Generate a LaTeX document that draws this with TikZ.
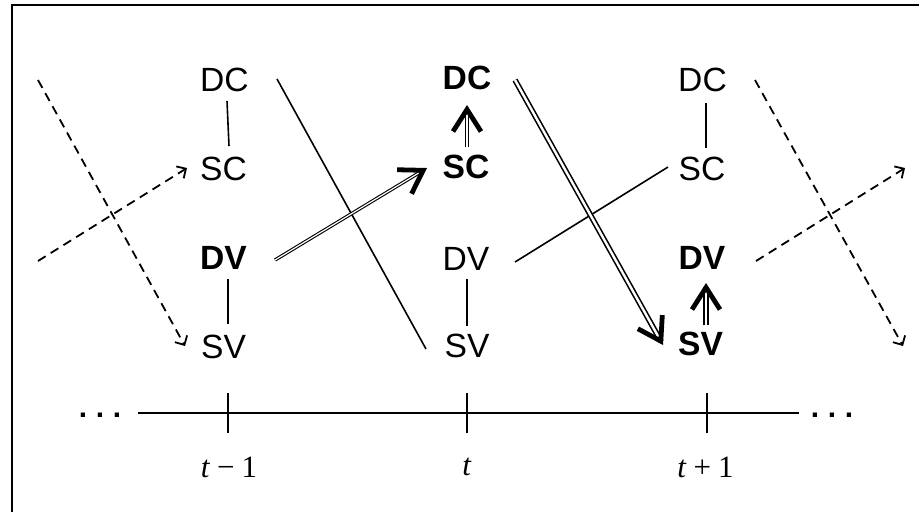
\documentclass[tikz,border=0pt]{standalone}
\usepackage{fontspec}
\setmainfont{Liberation Sans}
\newfontfamily\timesfont{Liberation Serif}
\usetikzlibrary{arrows.meta,calc}

\begin{document}
\begin{tikzpicture}[x=0.5pt,y=-0.5pt,
  lbl/.style={inner sep=0pt, font=\fontsize{16.8}{19}\selectfont},
  blbl/.style={inner sep=0pt, font=\fontsize{16.8}{19}\selectfont\bfseries},
  link/.style={line width=0.8pt},
  dlink/.style={line width=0.9pt, dash pattern=on 4.5pt off 3pt,
    -{Straight Barb[length=3.5pt,width=7pt]}},
  thinshaft/.style={double, line width=0.55pt, double distance=0.6pt, shorten >=2pt},
  wideshaft/.style={double, line width=0.8pt, double distance=1.2pt, shorten >=2pt},
  headtip/.style={line width=0.7pt, -{Straight Barb[length=11pt,width=14pt,line width=2.4pt]}},
  axis/.style={line width=0.9pt},
  tlabel/.style={inner sep=0pt, font=\timesfont\fontsize{15.5}{18}\selectfont},
  dots/.style={inner sep=0pt, font=\fontsize{15}{15}\selectfont\bfseries},
]
\useasboundingbox (0,0) rectangle (919,511);

% frame
\draw[line width=1pt] (11.5,520) -- (11.5,5) -- (930,5);

% state nodes, one column per period
\node[lbl]  (c1dc) at (224.5,80)  {DC};
\node[lbl]  (c1sc) at (223.5,168.5) {SC};
\node[blbl] (c1dv) at (223.5,257.5) {DV};
\node[lbl]  (c1sv) at (223.5,346.5) {SV};

\node[blbl] (c2dc) at (467,78)  {DC};
\node[blbl] (c2sc) at (466,167) {SC};
\node[lbl]  (c2dv) at (466,259) {DV};
\node[lbl]  (c2sv) at (467,346) {SV};

\node[lbl]  (c3dc) at (702.5,80)  {DC};
\node[lbl]  (c3sc) at (702,168.5) {SC};
\node[blbl] (c3dv) at (702,257.5) {DV};
\node[blbl] (c3sv) at (700.5,344) {SV};

% vertical links inside a period
\draw[link] ($(c1dc)+(2.5,21)$) -- ($(c1sc)+(5.5,-22.5)$);
\draw[link] ($(c1dv)+(4.5,21.5)$) -- ($(c1sv)+(4.5,-22.5)$);
\draw[link] ($(c2dv)+(1,20)$) -- ($(c2sv)+(0,-20)$);
\draw[link] ($(c3dc)+(3.5,23)$) -- ($(c3sc)+(4,-20.5)$);

% links across periods
\draw[link] ($(c1dc)+(52.5,-1)$) -- ($(c2sv)+(-41,3)$);
\draw[link] ($(c2dv)+(49,3)$) -- ($(c3sc)+(-34,-1.5)$);

% highlighted double arrows
\draw[thinshaft] ($(c1dv)+(51.5,2.5)$) coordinate (a1s) -- ($(c2sc)+(-39,1)$) coordinate (a1e);
\draw[headtip] ($(a1e)!4pt!(a1s)$) -- (a1e);

\draw[thinshaft] ($(c2sc)+(1,-20)$) coordinate (a2s) -- ($(c2dc)+(0,27)$) coordinate (a2e);
\draw[headtip] ($(a2e)!4pt!(a2s)$) -- (a2e);

\draw[wideshaft] ($(c2dc)+(48,2)$) coordinate (a3s) -- ($(c3sv)+(-37.5,1)$) coordinate (a3e);
\draw[headtip] ($(a3e)!4pt!(a3s)$) -- (a3e);

\draw[wideshaft] ($(c3sv)+(5.5,-19)$) coordinate (a4s) -- ($(c3dv)+(4,25.5)$) coordinate (a4e);
\draw[headtip] ($(a4e)!4pt!(a4s)$) -- (a4e);

% dashed links from and to neighbouring periods
\coordinate (inDC) at (38,80);
\coordinate (inDV) at (38,261);
\coordinate (outSV) at (903,346);
\coordinate (outSC) at (905,168);
\draw[dlink] (inDC) -- ($(c1sv)+(-38.5,-0.5)$);
\draw[dlink] (inDV) -- ($(c1sc)+(-36.5,-0.5)$);
\draw[dlink] ($(c3dc)+(52.5,0)$) -- (outSV);
\draw[dlink] ($(c3dv)+(54,3.5)$) -- (outSC);

% time axis
\node[dots] (ldots) at (100,415) {.\hspace{4.3pt}.\hspace{4.3pt}.};
\node[dots] (rdots) at (832,415) {.\hspace{4.3pt}.\hspace{4.3pt}.};
\coordinate (tk1) at (228,413);
\coordinate (tk2) at (467,413);
\coordinate (tk3) at (707,413);
\draw[axis] ($(ldots.east)+(16,-2)$) -- ($(rdots.west)+(-12,-2)$);
\foreach \t in {tk1,tk2,tk3}
  \draw[axis] ($(\t)+(0,-20)$) -- ($(\t)+(0,20)$);

\node[tlabel] (lt1) at (229,467)   {\textit{t}\hspace{3.5pt}−\hspace{3.5pt}1};
\node[tlabel] (lt2) at (467,466.5) {\textit{t}};
\node[tlabel] (lt3) at (705.5,467) {\textit{t}\hspace{3.5pt}+\hspace{3.5pt}1};
\end{tikzpicture}
\end{document}
